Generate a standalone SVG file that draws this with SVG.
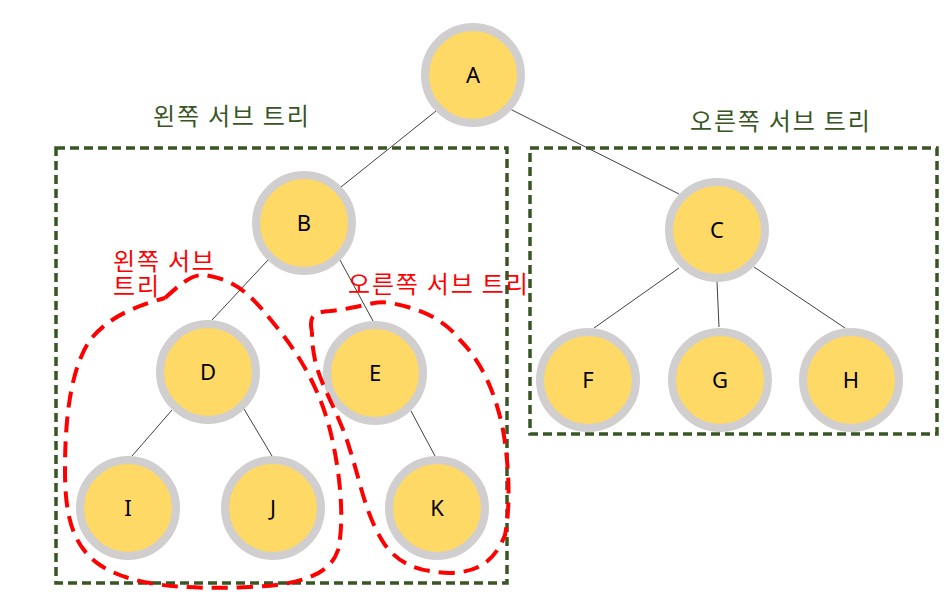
<svg xmlns="http://www.w3.org/2000/svg" width="950" height="601" viewBox="0 0 950 601">
<style>
.node circle{fill:#ffd966;stroke:#d0cece;stroke-width:8}
.node text{font-family:"Noto Sans","Noto Sans CJK KR",sans-serif;font-size:22px;fill:#000;text-anchor:middle}
.edge{stroke:#404040;stroke-width:1;fill:none}
.gbox{fill:none;stroke:#375623;stroke-width:3.5;stroke-dasharray:9 5}
.rblob{fill:none;stroke:#ff0000;stroke-width:4;stroke-dasharray:16 9}
.glabel{font-family:"Noto Sans CJK KR",sans-serif;font-size:24px;letter-spacing:1.8px;fill:#375623}
.rlabel{font-family:"Noto Sans CJK KR",sans-serif;font-size:24px;letter-spacing:1.8px;fill:#ff0000}
</style>
<rect width="950" height="601" fill="#ffffff"/>
<g id="boxes">
<rect class="gbox" x="56" y="148" width="451" height="435"/>
<rect class="gbox" x="530" y="148" width="407" height="286"/>
</g>
<g id="connectors">
<line class="edge" x1="436" y1="111" x2="341" y2="187"/>
<line class="edge" x1="510" y1="109" x2="679" y2="194"/>
<line class="edge" x1="268" y1="260" x2="212" y2="320"/>
<line class="edge" x1="340" y1="260" x2="373" y2="321"/>
<line class="edge" x1="172" y1="410" x2="132" y2="456"/>
<line class="edge" x1="244" y1="409" x2="272" y2="456"/>
<line class="edge" x1="411" y1="411" x2="435" y2="456"/>
<line class="edge" x1="679" y1="268" x2="594" y2="328"/>
<line class="edge" x1="717" y1="282" x2="719" y2="327"/>
<line class="edge" x1="754" y1="267" x2="845" y2="328"/>
</g>
<g id="node-A" class="node"><circle cx="473" cy="75" r="48"/><text x="473" y="83">A</text></g>
<g id="node-B" class="node"><circle cx="304" cy="223" r="48"/><text x="304" y="231">B</text></g>
<g id="node-C" class="node"><circle cx="717" cy="230" r="48"/><text x="717" y="238">C</text></g>
<g id="node-D" class="node"><circle cx="208" cy="372" r="48"/><text x="208" y="380">D</text></g>
<g id="node-E" class="node"><circle cx="375" cy="373" r="48"/><text x="375" y="381">E</text></g>
<g id="node-F" class="node"><circle cx="588" cy="380" r="48"/><text x="588" y="388">F</text></g>
<g id="node-G" class="node"><circle cx="720" cy="380" r="48"/><text x="720" y="388">G</text></g>
<g id="node-H" class="node"><circle cx="851" cy="380" r="48"/><text x="851" y="388">H</text></g>
<g id="node-I" class="node"><circle cx="128" cy="508" r="48"/><text x="128" y="516">I</text></g>
<g id="node-J" class="node"><circle cx="273" cy="508" r="48"/><text x="273" y="516">J</text></g>
<g id="node-K" class="node"><circle cx="437" cy="508" r="48"/><text x="437" y="516">K</text></g>
<g id="subtree-marks">
<path class="rblob" d="M165,298 C185,280 195,272 210,276 C240,282 255,300 275,325 C300,355 320,390 330,430 C340,470 345,520 338,550 C330,575 300,585 250,587 C180,590 130,585 100,565 C70,545 65,510 65,470 C65,420 70,370 90,340 C110,315 140,305 165,298"/>
<path class="rblob" d="M312,332 C308,315 315,312 330,311 C360,308 375,300 390,303 C420,308 445,320 460,340 C480,360 495,390 503,430 C510,470 510,510 505,535 C495,560 480,572 450,573 C420,572 400,565 385,545 C365,515 360,480 350,450 C340,415 320,385 315,360 C312,345 312,338 312,332"/>
</g>
<g id="labels">
<text class="glabel" x="153" y="125">왼쪽 서브 트리</text>
<text class="glabel" x="690" y="130">오른쪽 서브 트리</text>
<text class="rlabel" x="113" y="270"><tspan x="113" y="270">왼쪽 서브</tspan><tspan x="113" y="295">트리</tspan></text>
<text class="rlabel" x="348" y="293">오른쪽 서브 트리</text>
</g>
</svg>
